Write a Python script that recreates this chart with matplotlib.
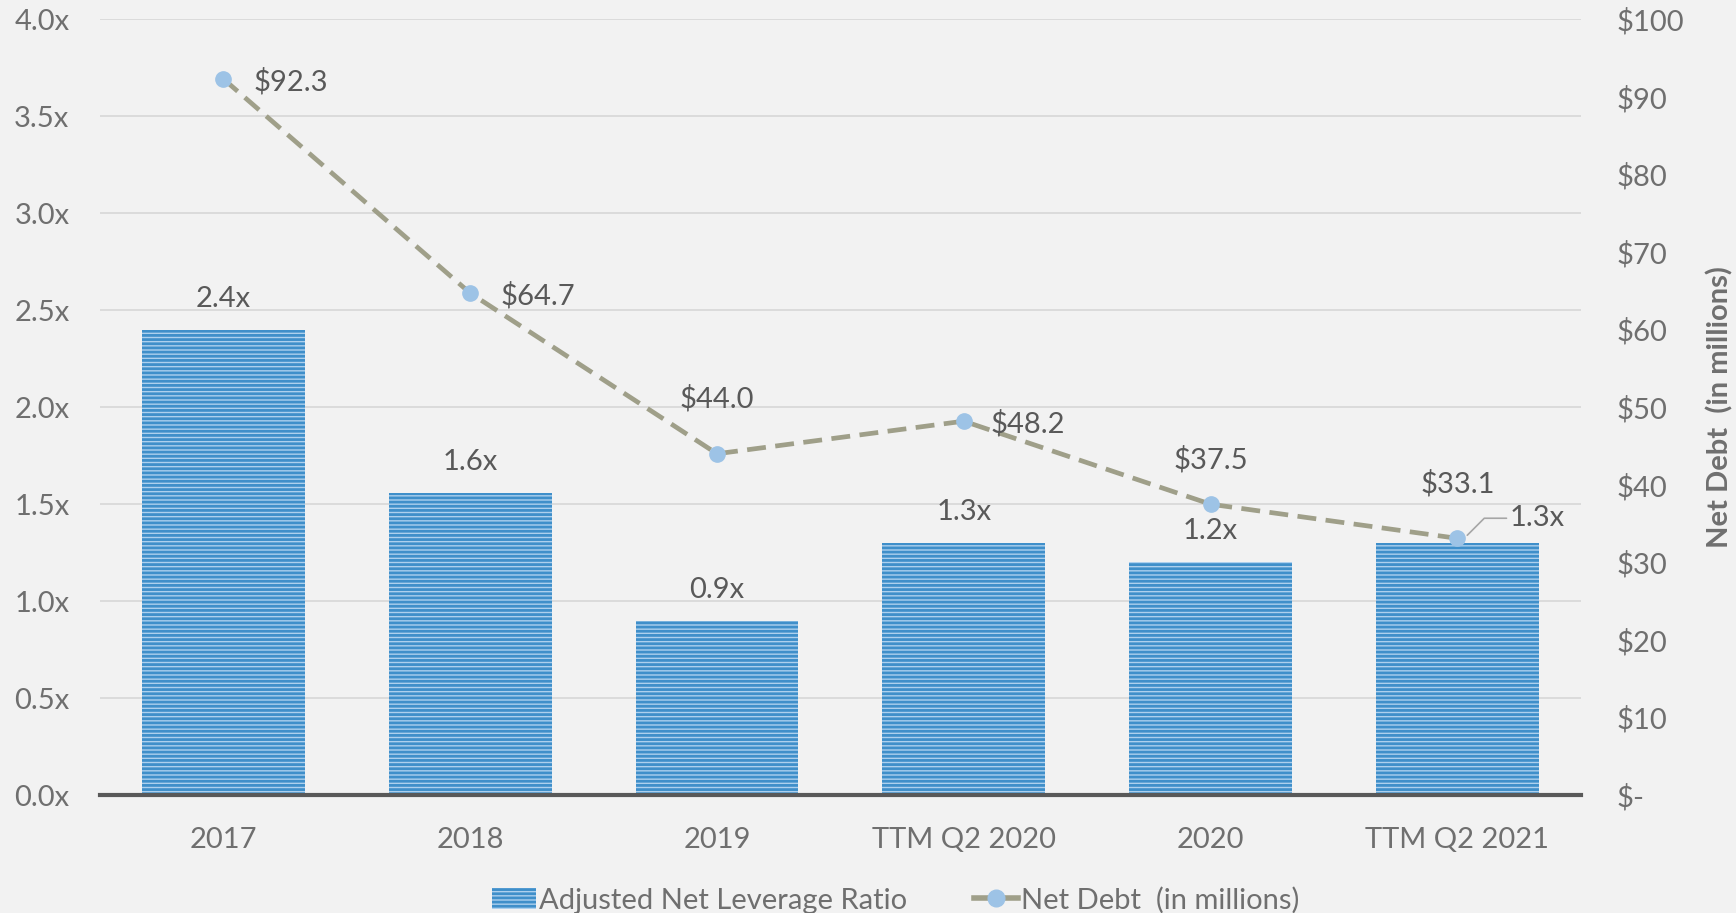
import matplotlib.pyplot as plt
import matplotlib as mpl
from matplotlib.patches import Patch
from matplotlib.lines import Line2D
import numpy as np

# data
periods = ['2017', '2018', '2019', 'TTM Q2 2020', '2020', 'TTM Q2 2021']
leverage = [2.4, 1.56, 0.9, 1.3, 1.2, 1.3]
leverage_labels = ['2.4x', '1.6x', '0.9x', '1.3x', '1.2x', '1.3x']
net_debt = [92.3, 64.7, 44.0, 48.2, 37.5, 33.1]

mpl.rcParams['font.family'] = ['Lato', 'DejaVu Sans']
mpl.rcParams['hatch.linewidth'] = 2.0

bg = '#f2f2f2'
txt = '#595959'
tick_col = '#6f6f6f'
bar_face = '#add0ee'
bar_hatch = '#3f8fca'
line_col = '#9f9f89'
marker_col = '#9dc3e6'
fs = 21

fig = plt.figure(figsize=(17.36, 9.13), dpi=100, facecolor=bg)
ax = fig.add_axes([0.0576, 0.129, 0.853, 0.85])
ax.set_facecolor(bg)
x = np.arange(len(periods))

bars = ax.bar(x, leverage, width=0.66, color=bar_face, edgecolor=bar_hatch,
              linewidth=0, hatch='----', zorder=2)
ax.set_xlim(-0.5, len(periods) - 0.5)
ax.set_ylim(0, 4)
ax.set_yticks(np.arange(0, 4.01, 0.5))
ax.set_yticklabels([f'{v:.1f}x' for v in np.arange(0, 4.01, 0.5)])
ax.grid(axis='y', color='#d9d9d9', linewidth=1.3, zorder=0)
ax.set_axisbelow(True)
for s in ['top', 'right', 'left']:
    ax.spines[s].set_visible(False)
ax.spines['bottom'].set_color('#595959')
ax.spines['bottom'].set_linewidth(3)
ax.spines['bottom'].set_zorder(3)
ax.set_xticks(x)
ax.set_xticklabels(periods)
ax.tick_params(axis='x', length=0, pad=23, labelsize=fs, labelcolor=tick_col)
ax.tick_params(axis='y', length=0, pad=22, labelsize=fs, labelcolor=tick_col)

for i, (v, lab) in enumerate(zip(leverage, leverage_labels)):
    if i == len(leverage) - 1:
        continue
    ax.annotate(lab, (i, v), xytext=(0, 31), textcoords='offset pixels',
                ha='center', va='center', fontsize=fs, color=txt)

ax2 = ax.twinx()
ax2.set_ylim(0, 100)
ax2.set_yticks(np.arange(0, 101, 10))
ax2.set_yticklabels(['$-'] + [f'${v}' for v in range(10, 101, 10)])
for s in ax2.spines.values():
    s.set_visible(False)
ax2.tick_params(axis='y', length=0, pad=26, labelsize=fs, labelcolor=tick_col)
ax2.set_ylabel('Net Debt  (in millions)', fontsize=fs, fontweight='bold',
               color='#6f6f6f', labelpad=16)

ax2.plot(x, net_debt, color=line_col, linewidth=3.4, dashes=(4, 2),
         marker='o', markersize=11, markerfacecolor=marker_col,
         markeredgecolor=marker_col, zorder=3)

# data labels for the line
offsets = [(30, -3, 'left'), (30, -3, 'left'), (0, 55, 'center'),
           (27, -3, 'left'), (0, 44, 'center'), (0, 55, 'center')]
for i, (v, (dx, dy, ha)) in enumerate(zip(net_debt, offsets)):
    ax2.annotate(f'${v:.1f}', (i, v), xytext=(dx, dy), textcoords='offset pixels',
                 ha=ha, va='center', fontsize=fs, color=txt)

# last bar label with leader line
last = len(leverage) - 1
ax.annotate(leverage_labels[last], (last + 0.04, leverage[last] + 0.04),
            xytext=(42, 17), textcoords='offset pixels',
            ha='left', va='center', fontsize=fs, color=txt,
            arrowprops=dict(arrowstyle='-', color='#a6a6a6', lw=1.2,
                            shrinkA=0, shrinkB=0,
                            connectionstyle='angle,angleA=0,angleB=45,rad=0'))

handles = [Patch(facecolor=bar_face, edgecolor=bar_hatch, hatch='----', linewidth=0),
           Line2D([0], [0], color=line_col, linewidth=4, marker='o', markersize=12,
                  markerfacecolor=marker_col, markeredgecolor=marker_col)]
fig.legend(handles, ['Adjusted Net Leverage Ratio', 'Net Debt  (in millions)'],
           loc='center', bbox_to_anchor=(0.516, 0.014), ncol=2, frameon=False,
           fontsize=fs, labelcolor=tick_col, handlelength=1.5, handletextpad=0.1,
           columnspacing=2.3)

fig.savefig('out.png', dpi=100, facecolor=bg)
